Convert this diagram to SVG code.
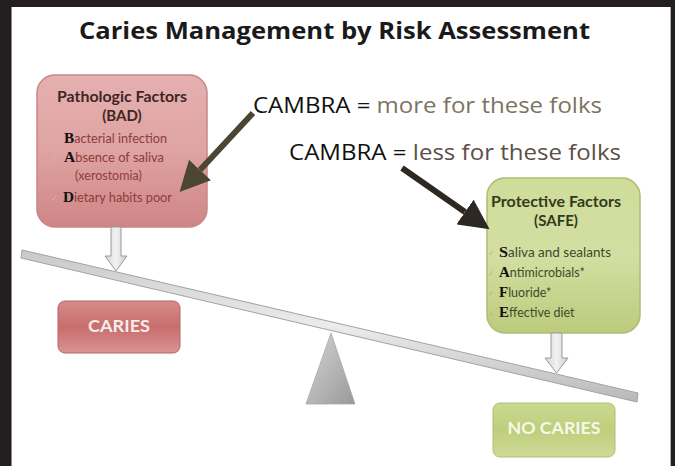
<svg xmlns="http://www.w3.org/2000/svg" width="675" height="466" viewBox="0 0 675 466">
<defs>
<linearGradient id="gRed" x1="0" y1="0" x2="0" y2="1">
<stop offset="0" stop-color="#e6b0b0"/><stop offset="0.5" stop-color="#dfa3a3"/><stop offset="1" stop-color="#cf8585"/>
</linearGradient>
<linearGradient id="gGreen" x1="0" y1="0" x2="0" y2="1">
<stop offset="0" stop-color="#cfdc9a"/><stop offset="0.5" stop-color="#d3dfa2"/><stop offset="1" stop-color="#bccb7c"/>
</linearGradient>
<linearGradient id="gCaries" x1="0" y1="0" x2="0" y2="1">
<stop offset="0" stop-color="#d78a8a"/><stop offset="0.5" stop-color="#c86e6e"/><stop offset="1" stop-color="#d99393"/>
</linearGradient>
<linearGradient id="gNo" x1="0" y1="0" x2="0" y2="1">
<stop offset="0" stop-color="#cbd98f"/><stop offset="0.5" stop-color="#bfce7c"/><stop offset="1" stop-color="#cfdb97"/>
</linearGradient>
<linearGradient id="gBeam" x1="0" y1="0" x2="0" y2="1">
<stop offset="0" stop-color="#c8c8c8"/><stop offset="0.5" stop-color="#ececec"/><stop offset="1" stop-color="#b8b8b8"/>
</linearGradient>
<linearGradient id="gTri" x1="0" y1="0" x2="1" y2="1">
<stop offset="0" stop-color="#d6d6d6"/><stop offset="1" stop-color="#999999"/>
</linearGradient>
<linearGradient id="gDown" x1="0" y1="0" x2="1" y2="0">
<stop offset="0" stop-color="#d4d4d4"/><stop offset="0.5" stop-color="#f2f2f2"/><stop offset="1" stop-color="#cccccc"/>
</linearGradient>
<marker id="headA" markerUnits="userSpaceOnUse" markerWidth="30" markerHeight="30" viewBox="0 0 30 30" refX="0" refY="15" orient="auto">
<path d="M0,0 L30,15 L0,30 z" fill="#4b4632"/>
</marker>
<marker id="headB" markerUnits="userSpaceOnUse" markerWidth="30" markerHeight="30" viewBox="0 0 30 30" refX="0" refY="15" orient="auto">
<path d="M0,0 L30,15 L0,30 z" fill="#2d2822"/>
</marker>
<style>
.hd{font-family:Lato,"Open Sans",sans-serif;font-weight:bold;font-size:15px;text-anchor:middle}
.it{font-family:Lato,"Open Sans",sans-serif;font-size:12.5px}
.cap{font-family:"Liberation Serif",serif;font-weight:bold;font-size:15px;fill:#111}
.ck{font-family:"DejaVu Sans",sans-serif;font-size:8px;fill:#c8b8b8}
.ckg{font-family:"DejaVu Sans",sans-serif;font-size:8px;fill:#aab88a}
.lbl{font-family:Lato,"Open Sans",sans-serif;font-weight:bold;font-size:17px;text-anchor:middle}
.cam{font-family:"Open Sans",sans-serif;font-size:21px}
.down{fill:url(#gDown);stroke:#9a9a9a;stroke-width:1}
</style>
</defs>

<rect x="0" y="0" width="675" height="466" fill="#ffffff"/>
<rect x="0" y="0" width="675" height="7" fill="#231f20"/>
<rect x="0" y="0" width="11" height="466" fill="#231f20"/>
<rect x="671" y="0" width="4" height="466" fill="#231f20"/>
<line x1="11.5" y1="7" x2="11.5" y2="466" stroke="#8a8a8a" stroke-width="1"/>
<line x1="670.5" y1="7" x2="670.5" y2="466" stroke="#b0b0b0" stroke-width="1"/>

<text x="334.5" y="39" font-family="'Open Sans',sans-serif" font-weight="bold" font-size="23" text-anchor="middle" fill="#1a1a1a" textLength="511" lengthAdjust="spacingAndGlyphs">Caries Management by Risk Assessment</text>

<g id="cambra-more">
<text class="cam" x="253" y="113" textLength="349" lengthAdjust="spacingAndGlyphs"><tspan fill="#111">CAMBRA = </tspan><tspan fill="#7a7460">more for these folks</tspan></text>
</g>
<g id="cambra-less">
<text class="cam" x="289" y="160" textLength="332" lengthAdjust="spacingAndGlyphs"><tspan fill="#111">CAMBRA = </tspan><tspan fill="#5c4f47">less for these folks</tspan></text>
</g>

<g id="beam">
<polygon points="22,250 638,393 637,402 21,258" fill="url(#gBeam)" stroke="#a3a3a3" stroke-width="1"/>
</g>
<g id="fulcrum">
<polygon points="331,333 306,404 355,404" fill="url(#gTri)" stroke="#a8a8a8" stroke-width="0.8"/>
</g>

<g id="pathologic">
<rect x="37" y="75" width="170" height="152" rx="18" fill="url(#gRed)" stroke="#c88686" stroke-width="1.5"/>
<text class="hd" x="122" y="102" fill="#3f2626" textLength="130" lengthAdjust="spacingAndGlyphs">Pathologic Factors</text>
<text class="hd" x="122" y="121" fill="#3f2626">(BAD)</text>
<text class="ck" x="51" y="142">✓</text>
<text class="ck" x="51" y="161">✓</text>
<text class="ck" x="51" y="201">✓</text>
<text x="64" y="143" textLength="103" lengthAdjust="spacingAndGlyphs"><tspan class="cap">B</tspan><tspan class="it" fill="#8e3c3c">acterial infection</tspan></text>
<text x="64" y="162" textLength="100" lengthAdjust="spacingAndGlyphs"><tspan class="cap">A</tspan><tspan class="it" fill="#8e3c3c">bsence of saliva</tspan></text>
<text class="it" x="75" y="180" fill="#8e3c3c">(xerostomia)</text>
<text x="63" y="202" textLength="109" lengthAdjust="spacingAndGlyphs"><tspan class="cap">D</tspan><tspan class="it" fill="#8e3c3c">ietary habits poor</tspan></text>
</g>

<g id="protective">
<rect x="487" y="178" width="153" height="155" rx="18" fill="url(#gGreen)" stroke="#aebd72" stroke-width="1.5"/>
<text class="hd" x="556" y="207" fill="#343a1c" textLength="130" lengthAdjust="spacingAndGlyphs">Protective Factors</text>
<text class="hd" x="556" y="226" fill="#343a1c">(SAFE)</text>
<text class="ckg" x="488" y="256">✓</text>
<text class="ckg" x="488" y="276">✓</text>
<text class="ckg" x="488" y="296">✓</text>
<text class="ckg" x="488" y="316">✓</text>
<text x="499" y="257" textLength="112" lengthAdjust="spacingAndGlyphs"><tspan class="cap">S</tspan><tspan class="it" fill="#3e4a2a">aliva and sealants</tspan></text>
<text x="499" y="277"><tspan class="cap">A</tspan><tspan class="it" fill="#3e4a2a">ntimicrobials*</tspan></text>
<text x="499" y="297"><tspan class="cap">F</tspan><tspan class="it" fill="#3e4a2a">luoride*</tspan></text>
<text x="499" y="317"><tspan class="cap">E</tspan><tspan class="it" fill="#3e4a2a">ffective diet</tspan></text>
</g>

<g id="caries">
<rect x="58" y="301" width="122" height="52" rx="7" fill="url(#gCaries)" stroke="#b86464" stroke-width="1"/>
<text class="lbl" x="119" y="332" fill="#f7ecec" textLength="62" lengthAdjust="spacingAndGlyphs">CARIES</text>
</g>

<g id="no-caries">
<rect x="493" y="403" width="122" height="54" rx="7" fill="url(#gNo)" stroke="#b0bf70" stroke-width="1"/>
<text class="lbl" x="554" y="434" fill="#f6f8ea" textLength="93" lengthAdjust="spacingAndGlyphs">NO CARIES</text>
</g>

<g id="connectors">
<path class="down" d="M111,227 L121,227 L121,256 L127,256 L116,271 L105,256 L111,256 Z"/>
<path class="down" d="M551,333 L562,333 L562,358 L568,358 L556.5,373 L545,358 L551,358 Z"/>
<line x1="253" y1="113" x2="200" y2="170" stroke="#4b4632" stroke-width="6" marker-end="url(#headA)"/>
<line x1="402" y1="168" x2="465" y2="212" stroke="#2d2822" stroke-width="6" marker-end="url(#headB)"/>
</g>
</svg>
